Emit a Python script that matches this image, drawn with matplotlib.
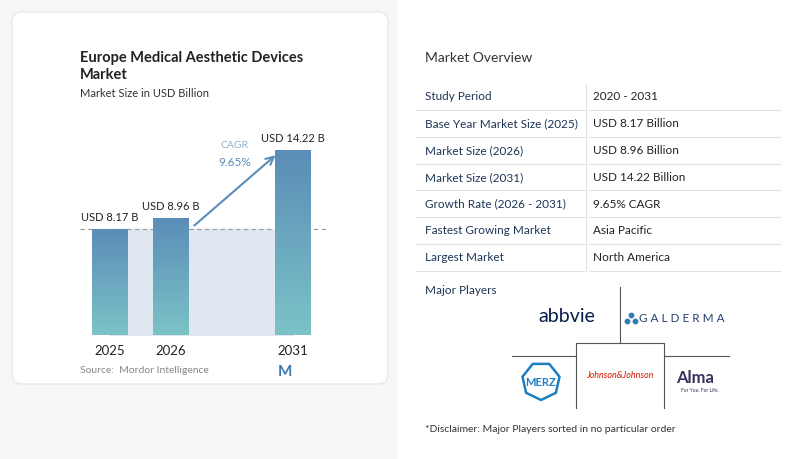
import matplotlib.pyplot as plt
import numpy as np
from matplotlib.patches import FancyBboxPatch, RegularPolygon
from matplotlib.colors import LinearSegmentedColormap

# ============================================================
# Data
# ============================================================
years = ["2025", "2026", "2031"]
positions = [0, 1, 3]
values = [8.17, 8.96, 14.22]
value_labels = ["USD 8.17 B", "USD 8.96 B", "USD 14.22 B"]
cagr = "9.65%"

row_labels = ["Study Period", "Base Year Market Size (2025)", "Market Size (2026)",
              "Market Size (2031)", "Growth Rate (2026 - 2031)", "Fastest Growing Market",
              "Largest Market"]
row_values = ["2020 - 2031", "USD 8.17 Billion", "USD 8.96 Billion", "USD 14.22 Billion",
              "9.65% CAGR", "Asia Pacific", "North America"]

NAVY = "#1d3557"
plt.rcParams['font.family'] = ['Lato', 'DejaVu Sans']

fig = plt.figure(figsize=(8, 4.59), dpi=100)
fig.patch.set_facecolor("#f6f7f8")

# full-figure overlay in pixel coordinates
bg = fig.add_axes([0, 0, 1, 1])
bg.set_xlim(0, 800)
bg.set_ylim(459, 0)
bg.axis("off")
bg.add_patch(FancyBboxPatch((12, 12), 376, 372, boxstyle="round,pad=0,rounding_size=10",
                            fc="white", ec="#e6e8eb", lw=1))
bg.add_patch(FancyBboxPatch((398, 0), 402, 459, boxstyle="square,pad=0", fc="white", ec="none"))

bg.text(80, 62, "Europe Medical Aesthetic Devices", fontsize=10.5, weight="bold", color="#222")
bg.text(80, 79, "Market", fontsize=10.5, weight="bold", color="#222")
bg.text(80, 97, "Market Size in USD Billion", fontsize=8, color="#333")
bg.text(80, 373, "Source:  Mordor Intelligence", fontsize=7.5, color="#888")
bg.text(278, 376, "M", fontsize=11, weight="bold", color="#3b7bb0")

# ============================================================
# Bar chart
# ============================================================
x0, x1, ytop, ybase = 80, 327, 120, 335
ax = fig.add_axes([x0 / 800, 1 - ybase / 459, (x1 - x0) / 800, (ybase - ytop) / 459])
ax.axis("off")
ax.fill_between([positions[0], positions[-1]], 0, values[0], color="#dfe8f1", zorder=0)
ax.axhline(values[0], color="#999", ls=(0, (4, 3)), lw=0.8, zorder=1)
ax.axhline(0, color="#bbb", lw=0.8, zorder=3)

cmap = LinearSegmentedColormap.from_list("bar", ["#7cc3c7", "#5a8db7"])
grad = np.linspace(0, 1, 256).reshape(-1, 1)
w = 0.59
for p, v, lab in zip(positions, values, value_labels):
    ax.imshow(grad, cmap=cmap, origin="lower", aspect="auto",
              extent=(p - w / 2, p + w / 2, 0, v), zorder=2)
    ax.text(p, v + 0.5, lab, ha="center", va="bottom", fontsize=8, color="#222")
ax.set_xlim(-0.49, 3.56)
ax.set_ylim(0, (ybase - ytop) / 12.97)

ax.annotate("", xy=(2.75, 14.0), xytext=(1.35, 8.3),
            arrowprops=dict(arrowstyle="->", color="#5a8db7", lw=1.5, mutation_scale=14))
ax.text(2.05, 14.4, "CAGR", ha="center", fontsize=7.5, color="#8fb0c8")
ax.text(2.05, 13.0, cagr, ha="center", fontsize=8.5, color="#5a8db7")

for p, y in zip(positions, years):
    bg.text(110 + 61 * p, 351, y, ha="center", va="center", fontsize=9.5, color="#222")

# ============================================================
# Market overview table
# ============================================================
bg.text(425, 58, "Market Overview", fontsize=10, color="#333", va="center")
for i, (lab, val) in enumerate(zip(row_labels, row_values)):
    y = 97 + i * 26.8
    bg.text(425, y, lab, fontsize=8.5, color=NAVY, va="center")
    bg.text(593, y, val, fontsize=8.5, color="#222", va="center")
    bg.plot([416, 584], [y + 13, y + 13], color="#dde1e6", lw=0.8)
    bg.plot([589, 780], [y + 13, y + 13], color="#dde1e6", lw=0.8)
    bg.plot([586, 586], [y - 13, y + 13], color="#dde1e6", lw=0.8)

bg.text(425, 290, "Major Players", fontsize=8.5, color=NAVY, va="center")
lc = "#555"
bg.plot([620, 620], [287, 343], color=lc, lw=0.8)
bg.plot([512, 575], [356, 356], color=lc, lw=0.8)
bg.plot([664, 729], [356, 356], color=lc, lw=0.8)
bg.plot([576, 576, 664, 664], [408, 343, 343, 408], color=lc, lw=0.8)
bg.text(567, 316, "abbvie", ha="center", va="center", fontsize=14, color="#071d49")
bg.text(682, 319, "G A L D E R M A", ha="center", va="center", fontsize=8.5, color="#27406b")
bg.plot([627, 635, 631], [321, 321, 315], "o", color="#2f7fb0", ms=3.2)
bg.add_patch(RegularPolygon((541, 381), 7, radius=19, fc="white", ec="#1e7fc0", lw=1.8))
bg.text(541, 382, "MERZ", ha="center", va="center", fontsize=8, weight="bold", color="#1e7fc0")
bg.text(620, 376, "Johnson&Johnson", ha="center", va="center", fontsize=6.5,
        style="italic", color="#d51900")
bg.text(695, 378, "Alma", ha="center", va="center", fontsize=12, weight="bold", color="#3a2f5b")
bg.text(700, 391, "For You. For Life.", ha="center", va="center", fontsize=3.5, color="#3a2f5b")

bg.text(425, 430, "*Disclaimer: Major Players sorted in no particular order",
        fontsize=7.5, color="#333", va="center")

fig.savefig("out.png", dpi=100, facecolor=fig.get_facecolor())
